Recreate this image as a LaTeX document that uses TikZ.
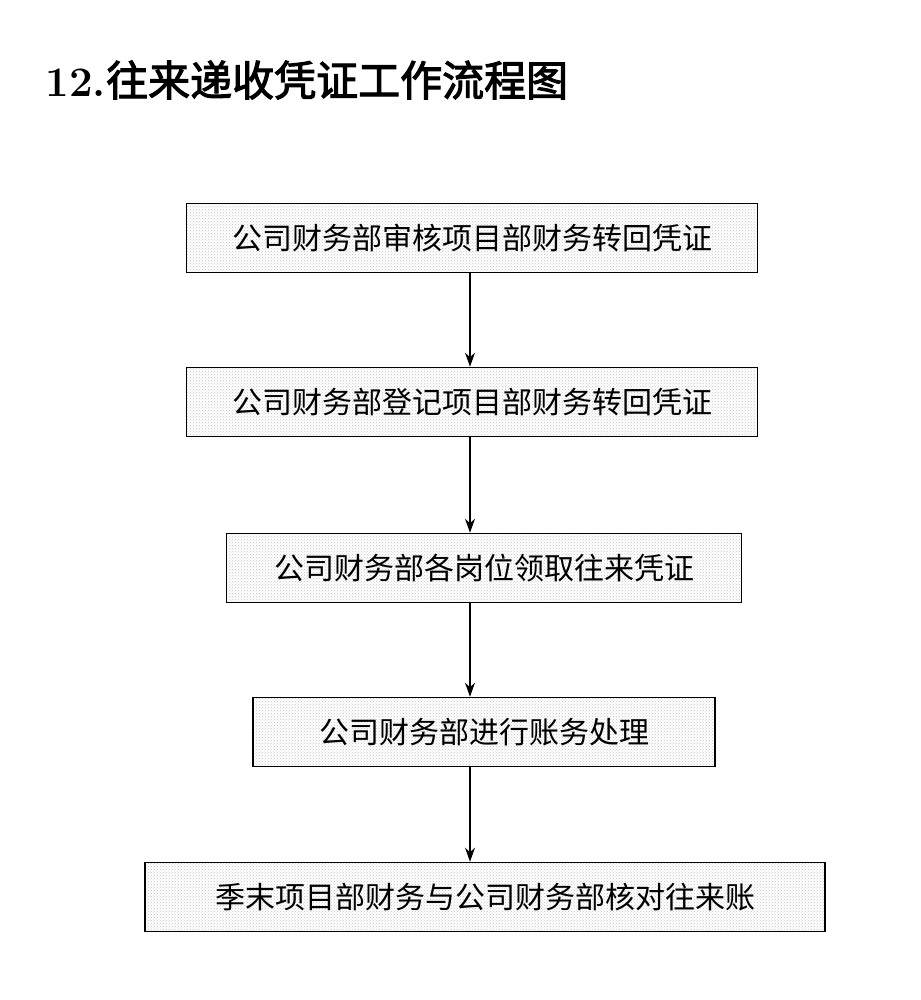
\documentclass[tikz,border=0pt]{standalone}
\usepackage{fontspec}
\newfontfamily\cjk[AutoFakeBold=2.5]{Noto Sans CJK SC}
\usetikzlibrary{positioning, patterns, calc, arrows.meta}
\tikzset{
  stepbox/.style={draw, line width=1.6pt, minimum height=69pt, pattern=crosshatch dots, pattern color=gray!45, font=\cjk\fontsize{30}{30}\selectfont},
}
\begin{document}
\begin{tikzpicture}[x=1pt,y=-1pt,-{Stealth[length=14pt,width=10pt]},line width=1.4pt]
  \useasboundingbox[fill=white] (0,0) rectangle (920,1000);
  \node[anchor=west, inner sep=0pt, font=\fontsize{42}{42}\selectfont\bfseries] (title) at (45,80) {12.{\cjk\bfseries 往来递收凭证工作流程图}};

  \node[stepbox, minimum width=571pt] (audit) at (472,238) {公司财务部审核项目部财务转回凭证};
  \node[stepbox, minimum width=571pt] (register) at (472,402) {公司财务部登记项目部财务转回凭证};
  \node[stepbox, minimum width=515pt] (fetch) at (484,568) {公司财务部各岗位领取往来凭证};
  \node[stepbox, minimum width=462pt] (process) at (484,732) {公司财务部进行账务处理};
  \node[stepbox, minimum width=680pt] (check) at (485,897) {季末项目部财务与公司财务部核对往来账};

  \coordinate (axis) at (470,0);
  % arrows down the middle
  \draw (audit.south -| axis) -- (register.north -| axis);
  \draw (register.south -| axis) -- (fetch.north -| axis);
  \draw (fetch.south -| axis) -- (process.north -| axis);
  \draw (process.south -| axis) -- (check.north -| axis);
\end{tikzpicture}
\end{document}
